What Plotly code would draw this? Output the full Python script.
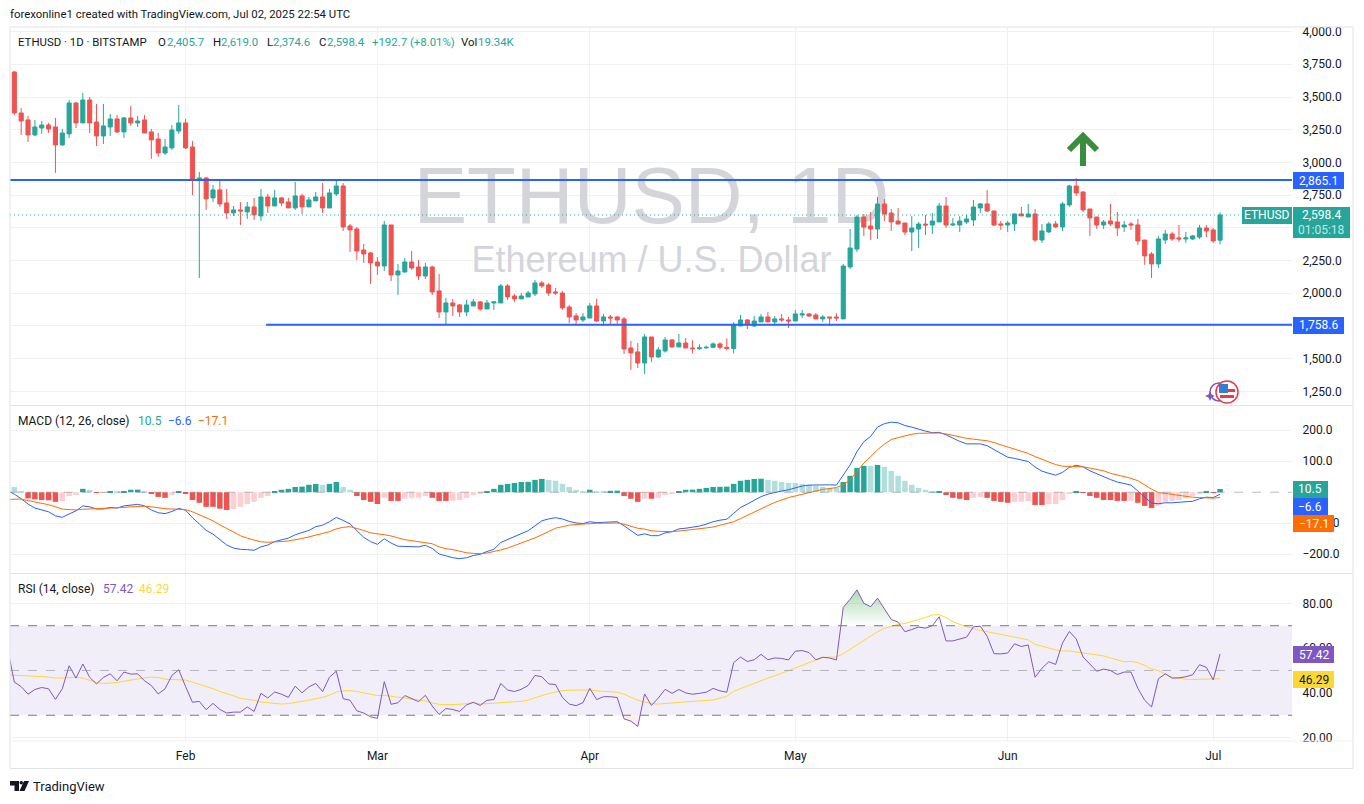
"""ETHUSD daily chart with MACD and RSI panes, TradingView look."""

import pandas as pd
import plotly.graph_objects as go

# first entry of the line series is the bar just left of the visible range
line_dates = pd.date_range("2025-01-06", "2025-07-02", freq="D")
dates = line_dates[1:]

opens = [
    3691, 3378, 3325, 3210, 3263, 3286, 3271, 3134, 3218, 3454,
    3302, 3477, 3309, 3202, 3271, 3332, 3233, 3340, 3302, 3325,
    3233, 3179, 3072, 3111, 3240, 3302, 3118, 2866, 2881, 2729,
    2790, 2690, 2614, 2637, 2622, 2660, 2591, 2736, 2667, 2729,
    2698, 2652, 2744, 2660, 2706, 2736, 2652, 2759, 2820, 2514,
    2491, 2331, 2308, 2239, 2209, 2522, 2140, 2163, 2239, 2201,
    2132, 2201, 2018, 1857, 1926, 1911, 1857, 1903, 1934, 1880,
    1926, 1926, 2056, 1979, 1957, 1972, 1995, 2079, 2064, 2010,
    2002, 1895, 1827, 1796, 1811, 1903, 1788, 1819, 1819, 1804,
    1582, 1552, 1467, 1666, 1513, 1559, 1643, 1590, 1620, 1582,
    1577, 1583, 1587, 1613, 1587, 1578, 1750, 1796, 1750, 1781,
    1819, 1781, 1804, 1796, 1788, 1834, 1842, 1834, 1804, 1819,
    1819, 1804, 2201, 2338, 2583, 2514, 2491, 2682, 2613, 2552,
    2537, 2468, 2491, 2529, 2522, 2545, 2667, 2522, 2522, 2545,
    2560, 2652, 2683, 2629, 2530, 2522, 2530, 2606, 2583, 2606,
    2407, 2469, 2530, 2507, 2675, 2820, 2774, 2644, 2583, 2522,
    2553, 2545, 2507, 2530, 2522, 2407, 2300, 2224, 2407, 2453,
    2423, 2415, 2415, 2430, 2499, 2484, 2405.7,
]
highs = [
    3699, 3416, 3355, 3325, 3317, 3302, 3340, 3256, 3477, 3462,
    3531, 3500, 3447, 3447, 3370, 3363, 3347, 3431, 3355, 3363,
    3256, 3225, 3179, 3286, 3439, 3332, 3164, 2927, 2889, 2828,
    2858, 2797, 2667, 2698, 2698, 2729, 2797, 2759, 2790, 2736,
    2729, 2851, 2759, 2736, 2774, 2843, 2797, 2866, 2843, 2530,
    2507, 2377, 2316, 2277, 2553, 2522, 2224, 2270, 2323, 2255,
    2232, 2209, 2148, 1964, 1957, 1918, 1949, 1957, 1941, 1949,
    1934, 2071, 2071, 1995, 2002, 2018, 2102, 2094, 2079, 2041,
    2018, 1911, 1849, 1849, 1926, 1957, 1842, 1834, 1827, 1819,
    1636, 1620, 1689, 1666, 1590, 1666, 1651, 1689, 1658, 1640,
    1610, 1600, 1625, 1625, 1655, 1780, 1834, 1803, 1826, 1842,
    1857, 1826, 1842, 1819, 1872, 1872, 1849, 1849, 1834, 1819,
    1849, 2224, 2491, 2598, 2606, 2621, 2736, 2720, 2644, 2652,
    2537, 2590, 2545, 2598, 2613, 2690, 2736, 2575, 2590, 2598,
    2713, 2690, 2790, 2629, 2553, 2553, 2611, 2660, 2683, 2644,
    2530, 2545, 2553, 2698, 2828, 2881, 2779, 2644, 2583, 2560,
    2683, 2621, 2553, 2545, 2568, 2407, 2316, 2438, 2484, 2469,
    2522, 2469, 2446, 2522, 2522, 2499, 2619.0,
]
lows = [
    3363, 3210, 3156, 3202, 3218, 3225, 2920, 3126, 3187, 3263,
    3302, 3225, 3126, 3141, 3202, 3225, 3187, 3279, 3271, 3225,
    3027, 3042, 3057, 3095, 3218, 3103, 2751, 2117, 2637, 2698,
    2660, 2568, 2591, 2522, 2568, 2560, 2553, 2614, 2667, 2667,
    2652, 2637, 2606, 2660, 2706, 2614, 2652, 2744, 2476, 2316,
    2255, 2232, 2071, 2140, 2170, 2094, 1987, 2155, 2178, 2102,
    2109, 1987, 1811, 1758, 1827, 1819, 1827, 1903, 1865, 1880,
    1872, 1926, 1949, 1934, 1957, 1972, 1979, 2041, 1979, 1987,
    1872, 1773, 1766, 1781, 1811, 1781, 1750, 1758, 1766, 1536,
    1414, 1429, 1383, 1475, 1506, 1546, 1582, 1590, 1582, 1540,
    1565, 1575, 1580, 1570, 1565, 1540, 1750, 1727, 1742, 1781,
    1781, 1750, 1781, 1735, 1788, 1811, 1819, 1804, 1781, 1750,
    1788, 1804, 2186, 2315, 2438, 2407, 2415, 2552, 2476, 2529,
    2445, 2323, 2346, 2445, 2453, 2545, 2499, 2514, 2468, 2529,
    2514, 2614, 2621, 2514, 2484, 2469, 2476, 2591, 2583, 2392,
    2385, 2461, 2499, 2476, 2660, 2744, 2621, 2438, 2492, 2492,
    2514, 2438, 2469, 2484, 2369, 2217, 2117, 2194, 2377, 2400,
    2392, 2385, 2407, 2415, 2430, 2385, 2374.6,
]
closes = [
    3378, 3317, 3210, 3271, 3286, 3256, 3134, 3225, 3454, 3302,
    3477, 3302, 3202, 3279, 3332, 3233, 3340, 3302, 3317, 3225,
    3172, 3072, 3118, 3248, 3302, 3111, 2866, 2881, 2721, 2790,
    2683, 2614, 2637, 2629, 2660, 2599, 2736, 2667, 2729, 2690,
    2652, 2744, 2660, 2713, 2736, 2652, 2767, 2820, 2507, 2484,
    2323, 2300, 2232, 2209, 2522, 2140, 2170, 2239, 2193, 2132,
    2201, 2010, 1857, 1926, 1903, 1857, 1911, 1934, 1880, 1926,
    1934, 2056, 1972, 1957, 1979, 2002, 2079, 2056, 2002, 2002,
    1888, 1819, 1796, 1819, 1903, 1788, 1819, 1811, 1796, 1574,
    1544, 1467, 1666, 1513, 1567, 1643, 1590, 1620, 1582, 1577,
    1583, 1587, 1613, 1587, 1578, 1758, 1796, 1765, 1788, 1819,
    1781, 1804, 1796, 1788, 1842, 1842, 1826, 1804, 1819, 1811,
    1811, 2208, 2346, 2583, 2506, 2491, 2682, 2606, 2545, 2529,
    2468, 2499, 2529, 2522, 2552, 2667, 2522, 2529, 2552, 2568,
    2659, 2683, 2629, 2522, 2522, 2537, 2606, 2591, 2606, 2407,
    2476, 2530, 2507, 2683, 2820, 2767, 2637, 2576, 2522, 2545,
    2530, 2499, 2522, 2522, 2400, 2285, 2224, 2415, 2453, 2415,
    2415, 2423, 2438, 2499, 2476, 2400, 2598.4,
]
macd_hist = [
    17, 1, -20, -23, -25, -26, -31, -28, -12, -9,
    11, 8, -1, -0.5, 4, 1, 4, 8, 8.5, 4,
    -5, -15, -18, -9, 4, -5, -25, -34, -47, -47,
    -53, -57, -54, -47, -38, -31, -18, -12, 1, 8,
    11, 17, 18, 24, 27, 24, 27, 33, 17, 8,
    -12, -25, -31, -38, -18, -28, -28, -21, -18, -17.5,
    -12, -18, -28, -28, -27.5, -25, -18, -9, -5, 4,
    11, 24, 27, 30, 33, 33.5, 40, 43, 40, 37,
    27, 17, 8, 4, 8, 4, 4, 4.5, 5, -12,
    -21, -31, -21, -21, -18, -9, -5, 4, 8, 8.5,
    11, 14, 17, 17.5, 18, 27, 37, 40, 43, 43.5,
    40, 37, 33, 30, 30, 27, 24, 20, 17, 14,
    14, 33, 53, 78, 85, 85, 88, 82, 69, 53,
    37, 24, 14, 8, 1, 1.5, -9, -18, -21, -25,
    -18, -15, -18, -28, -31, -34, -31, -30.5, -28, -41,
    -41, -38, -37.5, -25, -5, 4, -2, -12, -18, -25,
    -25, -28, -28, -27.5, -34, -44, -51, -44, -31, -28,
    -25, -18, -12, -5, 1, -1, 10.5,
]
macd_line = [
    5,
    -6, -21, -38, -51, -57, -63, -76, -81, -70, -60,
    -44, -47, -54, -54, -49, -51, -44, -41, -39, -44,
    -57, -66, -69, -62, -52, -58, -82, -102, -123, -135,
    -154, -170, -180, -184, -185, -187, -176, -170, -159, -154,
    -148, -137, -131, -123, -111, -106, -95, -81, -91, -102,
    -124, -145, -159, -168, -150, -164, -174, -174, -174, -176,
    -171, -181, -199, -206, -211, -214, -211, -204, -200, -191,
    -184, -162, -152, -143, -134, -124, -108, -92, -86, -82,
    -86, -94, -99, -101, -95, -98, -97, -96, -95, -108,
    -123, -139, -134, -140, -140, -131, -127, -118, -116, -113,
    -109, -103, -95, -90, -87, -68, -49, -38, -25, -14,
    -6, 0, 4, 8, 15, 20, 23, 24, 24, 24,
    23, 54, 88, 131, 163, 180, 210, 221, 226, 224,
    215, 210, 203, 197, 192, 193, 185, 174, 164, 156,
    156, 156, 150, 137, 124, 113, 109, 104, 99, 81,
    68, 61, 55, 64, 80, 87, 82, 69, 59, 49,
    41, 33, 27, 23, 4, -16, -35, -37, -34, -34,
    -33, -32, -29, -21, -16, -17, -6.6,
]
macd_signal = [
    -23,
    -22, -22, -27, -31, -35, -40, -47, -54, -56, -57,
    -55, -54, -53, -53, -52, -52, -49, -47, -46, -45,
    -47, -51, -53, -54, -54, -56, -63, -72, -82, -92,
    -105, -117, -129, -140, -148, -155, -160, -161, -161, -159,
    -157, -154, -149, -144, -139, -133, -127, -118, -113, -111,
    -116, -123, -131, -133, -137, -141, -148, -153, -156, -160,
    -162, -166, -176, -182, -185, -190, -195, -197, -198, -196,
    -192, -186, -180, -172, -164, -157, -147, -137, -126, -116,
    -111, -106, -104, -102, -100, -100, -100, -99, -99, -103,
    -110, -116, -119, -124, -126, -127, -127, -125, -123, -120,
    -118, -115, -112, -107, -102, -95, -85, -74, -63, -53,
    -43, -33, -25, -17, -12, -6, -1, 4, 9, 12,
    15, 24, 40, 67, 94, 115, 137, 155, 170, 176,
    182, 187, 190, 191, 191, 191, 188, 183, 178, 174,
    171, 169, 166, 160, 153, 145, 139, 132, 125, 115,
    106, 97, 89, 84, 83, 83, 82, 78, 74, 69,
    61, 56, 51, 45, 37, 23, 10, -1, -4, -9,
    -12, -14, -16, -17, -19, -19, -17.1,
]
rsi_line = [
    60,
    44.8, 42.8, 39.4, 41.5, 42.4, 41.8, 37.1, 41.8, 52.1, 46.6,
    52.9, 46.9, 44, 46.9, 48.5, 45.4, 49.3, 48.4, 48.5, 45.4,
    43.3, 39.5, 41.8, 47.8, 50.3, 42.8, 35.8, 36.2, 32.5, 35.3,
    32.6, 31, 31.4, 31.4, 33.7, 31.7, 39.8, 37.7, 40.4, 39.4,
    38, 43, 40, 42.7, 44.2, 40.6, 47, 49.7, 37.4, 36.7,
    32, 31, 29.3, 28.6, 45, 34.9, 35.6, 38.8, 37.6, 36.1,
    38.9, 34.1, 30.4, 33, 32.6, 31.7, 34.6, 35.8, 34.4, 36.7,
    37, 44.2, 41.3, 40.6, 41.6, 43.3, 47.8, 47.2, 44, 43.7,
    38, 35, 34.3, 35.6, 42, 37, 38.3, 38.3, 37.9, 28.4,
    27.4, 25, 39.5, 34.4, 37.7, 41.6, 39.8, 41.5, 40, 39.4,
    39.8, 40.3, 42, 40.9, 40.3, 53.5, 56, 54, 54.8, 57.2,
    54.8, 55.6, 55.4, 54.7, 58.6, 58.9, 58, 54.8, 55.9, 55.6,
    54.7, 78.2, 81.8, 86, 80, 78.5, 82.3, 77.3, 72.8, 71.6,
    67.3, 68.3, 69.4, 68.9, 70, 74, 63.2, 63.2, 64.1, 64.9,
    69.5, 69.8, 65.3, 57.5, 57.4, 57.8, 61.9, 60.7, 61.4, 47,
    51, 53.9, 52.7, 62.3, 67.4, 64.1, 56, 52.7, 49.7, 50.6,
    50, 48.2, 49.3, 49.3, 42, 36.7, 33.7, 46.3, 48.5, 46.6,
    46.7, 47.2, 48.1, 52.6, 51.4, 45.8, 57.42,
]
rsi_ma = [
    48,
    47.9, 47.6, 47.5, 47.5, 47.3, 47, 46.6, 46.6, 46.9, 47,
    46.6, 45.7, 44.6, 44.2, 44.3, 44.6, 45.2, 45.8, 46.3, 46.7,
    47, 46.9, 46.1, 46, 46, 45.7, 44.8, 43.7, 42.8, 41.9,
    40.6, 39.7, 38.6, 37.6, 37.1, 36.7, 35.9, 35.5, 35.2, 35,
    35.2, 35.6, 36.1, 36.7, 37.4, 38, 39, 40.4, 40.9, 41,
    40.6, 40.1, 39.4, 38.8, 38.9, 38.5, 38, 37.7, 37.3, 37,
    36.4, 35.5, 34.9, 34.7, 34.7, 34.9, 35.2, 35.6, 35, 35.2,
    35.3, 35.6, 35.8, 36.1, 36.2, 36.8, 37.9, 38.8, 39.7, 40.4,
    41, 41.2, 41.2, 41, 41.3, 40.9, 40.7, 40.6, 40.3, 39.4,
    38.2, 36.7, 35.9, 35.2, 35, 35.3, 35.6, 35.9, 36.2, 36.2,
    36.4, 36.5, 36.8, 37.6, 38.5, 40.7, 41.9, 43.3, 44.5, 45.5,
    46.6, 47.6, 48.7, 49.9, 51.2, 52.3, 53.5, 54.7, 55.7, 56,
    56, 57.5, 59.5, 61.6, 63.5, 65.2, 67.3, 68.8, 69.8, 70.6,
    71, 71.8, 72.8, 73.7, 74.8, 75, 73.6, 71.8, 70.6, 69.5,
    68.6, 67.9, 67.3, 66.5, 65.9, 65.3, 64.9, 64.4, 63.7, 61.7,
    61, 60, 59.2, 58.7, 58.7, 58.3, 57.8, 57.4, 56.9, 56.5,
    55.6, 54.7, 53.9, 54.1, 53.5, 52.3, 50.6, 49.9, 48.4, 47,
    46.6, 46.1, 46, 46, 46.1, 46, 46.29,
]

month_ticks = ["2025-02-01", "2025-03-01", "2025-04-01", "2025-05-01", "2025-06-01", "2025-07-01"]
month_labels = ["Feb", "Mar", "Apr", "May", "Jun", "Jul"]
price_ticks = [1250, 1500, 1750, 2000, 2250, 2500, 2750, 3000, 3250, 3500, 3750, 4000]
# 1,750.0 and 2,500.0 sit fully behind the price tags, so they carry no label
price_labels = ["1,250.0", "1,500.0", "", "2,000.0", "2,250.0", "", "2,750.0",
                "3,000.0", "3,250.0", "3,500.0", "3,750.0", "4,000.0"]
macd_ticks = [-200, -100, 100, 200]
rsi_ticks = [20, 40, 60, 80]

resistance = 2865.1
support = 1758.6
last_price = 2598.4
support_start = "2025-02-12 18:00"

X_START = "2025-01-06 08:50"
X_END = "2025-07-12 12:00"

UP = "#26a69a"
DOWN = "#ef5350"
UP_LIGHT = "#b2dfdb"
DOWN_LIGHT = "#ffcdd2"
BLUE = "#2962ff"
ORANGE = "#ff6d00"
PURPLE = "#7e57c2"
YELLOW = "#fdd835"
GRID = "#f0f1f4"
FRAME = "#e0e3eb"
TEXT = "#131722"
FONT = "Roboto"
HEAD_SIZE = 11.4


def px(x):
    return (x - 10) / 1282


def py(y):
    return (741 - y) / 714


def hist_colors(values):
    colors = []
    for prev, cur in zip([values[0]] + values[:-1], values):
        if cur >= 0:
            colors.append(UP if cur > prev else UP_LIGHT)
        else:
            colors.append(DOWN_LIGHT if cur > prev else DOWN)
    return colors


def label(x, y, text, color=TEXT, size=12, anchor="left"):
    # annotations pad their box by a couple of pixels
    shift = 2 if anchor == "left" else 0
    return dict(
        x=px(x - shift), y=py(y), xref="paper", yref="paper", text=text, showarrow=False,
        xanchor=anchor, yanchor="middle", align=anchor,
        font=dict(family=FONT, size=size, color=color),
    )


def rect(x0, y0, x1, y1, fill, line=None):
    return dict(
        type="rect", xref="paper", yref="paper", x0=px(x0), x1=px(x1), y0=py(y0), y1=py(y1),
        fillcolor=fill, line=dict(color=line or fill, width=1 if line else 0), layer="above",
    )


def hline(x0, x1, y, color=FRAME, width=1):
    return dict(
        type="line", xref="paper", yref="paper", x0=px(x0), x1=px(x1), y0=py(y), y1=py(y),
        line=dict(color=color, width=width), layer="above",
    )


def vline(x, y0, y1, color=FRAME, width=1):
    return dict(
        type="line", xref="paper", yref="paper", x0=px(x), x1=px(x), y0=py(y0), y1=py(y1),
        line=dict(color=color, width=width), layer="above",
    )


def path_shape(points, color, width=0, fill=None):
    parts = []
    for cmd, x, y in points:
        parts.append(f"{cmd}{px(x):.5f},{py(y):.5f}")
    return dict(
        type="path", xref="paper", yref="paper", path=" ".join(parts),
        line=dict(color=color, width=width), fillcolor=fill, layer="above",
    )


fig = go.Figure()

# watermark lives on the base axis so the candles overlay it
fig.add_trace(go.Scatter(
    x=["2025-04-10"], y=[0.535], mode="text", text=["ETHUSD, 1D"],
    textfont=dict(family="Liberation Sans", size=80, color="#d4d5da"),
    xaxis="x", yaxis="y", hoverinfo="skip",
))
fig.add_trace(go.Scatter(
    x=["2025-04-10"], y=[0.376], mode="text", text=["Ethereum / U.S. Dollar"],
    textfont=dict(family="Liberation Sans", size=36, color="#d4d5da"),
    xaxis="x", yaxis="y", hoverinfo="skip",
))

fig.add_trace(go.Candlestick(
    x=dates, open=opens, high=highs, low=lows, close=closes,
    increasing=dict(line=dict(color=UP, width=1), fillcolor=UP),
    decreasing=dict(line=dict(color=DOWN, width=1), fillcolor=DOWN),
    whiskerwidth=0, xaxis="x", yaxis="y2", hoverinfo="skip",
))
fig.add_trace(go.Scatter(
    x=[X_START, X_END], y=[last_price, last_price], mode="lines",
    line=dict(color=UP, width=1, dash="1px,3px"), yaxis="y2",
))
fig.add_trace(go.Scatter(
    x=[X_START, X_END], y=[resistance, resistance], mode="lines",
    line=dict(color=BLUE, width=2), yaxis="y2",
))
fig.add_trace(go.Scatter(
    x=[support_start, X_END], y=[support, support], mode="lines",
    line=dict(color=BLUE, width=2), yaxis="y2",
))

fig.add_trace(go.Bar(
    x=dates, y=macd_hist, marker=dict(color=hist_colors(macd_hist), line=dict(width=0)),
    width=0.8 * 86400000, yaxis="y3", hoverinfo="skip",
))
fig.add_trace(go.Scatter(
    x=line_dates, y=macd_line, mode="lines", line=dict(color=BLUE, width=1), yaxis="y3",
))
fig.add_trace(go.Scatter(
    x=line_dates, y=macd_signal, mode="lines", line=dict(color=ORANGE, width=1), yaxis="y3",
))

# overbought / oversold fills
ob_x = line_dates[122:131]
ob_y = rsi_line[122:131]
fig.add_trace(go.Scatter(
    x=ob_x, y=[70] * len(ob_y), mode="lines", line=dict(width=0), yaxis="y4",
))
fig.add_trace(go.Scatter(
    x=ob_x, y=ob_y, mode="lines", line=dict(width=0), fill="tonexty", yaxis="y4",
    fillgradient=dict(
        type="vertical",
        colorscale=[[0, "rgba(76,175,80,0)"], [1, "rgba(76,175,80,0.45)"]],
    ),
))
os_x = line_dates[90:93]
os_y = rsi_line[90:93]
fig.add_trace(go.Scatter(
    x=os_x, y=[30] * len(os_y), mode="lines", line=dict(width=0), yaxis="y4",
))
fig.add_trace(go.Scatter(
    x=os_x, y=os_y, mode="lines", line=dict(width=0), fill="tonexty",
    fillcolor="rgba(239,83,80,0.1)", yaxis="y4",
))
fig.add_trace(go.Scatter(
    x=line_dates, y=rsi_ma, mode="lines", line=dict(color=YELLOW, width=1), yaxis="y4",
))
fig.add_trace(go.Scatter(
    x=line_dates, y=rsi_line, mode="lines", line=dict(color=PURPLE, width=1), yaxis="y4",
))

annotations = [
    label(10, 14, "forexonline1 created with TradingView.com, Jul 02, 2025 22:54 UTC", size=HEAD_SIZE),
    label(18, 41.5, "ETHUSD · 1D · BITSTAMP", size=HEAD_SIZE),
    label(158, 41.5, "O", size=HEAD_SIZE), label(167, 41.5, "2,405.7", UP, size=HEAD_SIZE),
    label(213, 41.5, "H", size=HEAD_SIZE), label(221, 41.5, "2,619.0", UP, size=HEAD_SIZE),
    label(267, 41.5, "L", size=HEAD_SIZE), label(273, 41.5, "2,374.6", UP, size=HEAD_SIZE),
    label(319, 41.5, "C", size=HEAD_SIZE), label(327, 41.5, "2,598.4", UP, size=HEAD_SIZE),
    label(372, 41.5, "+192.7 (+8.01%)", UP, size=HEAD_SIZE),
    label(461, 41.5, "Vol", size=HEAD_SIZE), label(478, 41.5, "19.34K", UP, size=HEAD_SIZE),
    label(18, 421, "MACD (12, 26, close)"),
    label(138, 421, "10.5", UP), label(168, 421, "−6.6", BLUE), label(198, 421, "−17.1", ORANGE),
    label(18, 589, "RSI (14, close)"),
    label(103, 589, "57.42", PURPLE), label(139, 589, "46.29", YELLOW),
    label(33, 786, "TradingView", size=13),
]

price_boxes = [
    (1293, 172, 1344, 189, BLUE, "2,865.1", "white"),
    (1293, 317, 1344, 334, BLUE, "1,758.6", "white"),
    (1242, 207, 1292, 224, UP, "ETHUSD", "white"),
    (1293, 481, 1328, 498, UP, "10.5", "white"),
    (1293, 498, 1328, 515, BLUE, "−6.6", "white"),
    (1293, 515, 1334, 532, ORANGE, "−17.1", "white"),
    (1293, 646, 1334, 663, PURPLE, "57.42", "white"),
    (1293, 671, 1334, 688, YELLOW, "46.29", TEXT),
]

shapes = [
    dict(type="rect", xref="paper", yref="y4", x0=0, x1=1, y0=30, y1=70,
         fillcolor="rgba(126,87,194,0.1)", line=dict(width=0), layer="below"),
    dict(type="line", xref="paper", yref="y4", x0=0, x1=1, y0=70, y1=70,
         line=dict(color="#787b86", width=1, dash="dash"), layer="above"),
    dict(type="line", xref="paper", yref="y4", x0=0, x1=1, y0=50, y1=50,
         line=dict(color="rgba(120,123,134,0.5)", width=1, dash="dash"), layer="above"),
    dict(type="line", xref="paper", yref="y4", x0=0, x1=1, y0=30, y1=30,
         line=dict(color="#787b86", width=1, dash="dash"), layer="above"),
    dict(type="line", xref="paper", yref="y3", x0=0, x1=1, y0=0, y1=0,
         line=dict(color="rgba(120,123,134,0.5)", width=1, dash="dash"), layer="above"),
    # frame and pane separators
    hline(10, 1353, 27), hline(10, 1353, 405.5), hline(10, 1353, 573.5),
    hline(10, 1353, 741, color=GRID), hline(10, 1353, 768.5),
    vline(10, 27, 768), vline(1353, 27, 768),
    # up arrow drawn on the chart
    path_shape([("M", 1083, 166), ("L", 1083, 137), ("M", 1069, 150), ("L", 1083, 136), ("L", 1097, 150)],
               "#388e3c", width=6),
    # economic calendar badge
    dict(type="circle", xref="paper", yref="paper", x0=px(1210), x1=px(1228), y0=py(383), y1=py(401),
         line=dict(color=PURPLE, width=1.5), fillcolor="white", layer="above"),
    path_shape([("M", 1210, 391), ("L", 1211.5, 394.5), ("L", 1215, 396), ("L", 1211.5, 397.5),
                ("L", 1210, 401), ("L", 1208.5, 397.5), ("L", 1205, 396), ("L", 1208.5, 394.5), ("L", 1210, 391)],
               PURPLE, fill=PURPLE),
    dict(type="circle", xref="paper", yref="paper", x0=px(1216), x1=px(1238), y0=py(381), y1=py(403),
         line=dict(color="#f23645", width=1.5), fillcolor="white", layer="above"),
    rect(1219, 384, 1228, 393, "#2f7fd6"),
    rect(1228, 389, 1235, 392, "#f23645"),
    rect(1220, 395, 1234, 398, "#f23645"),
    # TradingView logo
    path_shape([("M", 10, 781), ("L", 19, 781), ("L", 19, 791), ("L", 14.5, 791), ("L", 14.5, 785.5), ("L", 10, 785.5), ("L", 10, 781)],
               TEXT, fill=TEXT),
    path_shape([("M", 24, 781), ("L", 29, 781), ("L", 24.5, 791), ("L", 19.5, 791), ("L", 24, 781)],
               TEXT, fill=TEXT),
    dict(type="circle", xref="paper", yref="paper", x0=px(19.5), x1=px(23), y0=py(781), y1=py(784.5),
         line=dict(width=0), fillcolor=TEXT, layer="above"),
]

for x0, y0, x1, y1, fill, text, color in price_boxes:
    shapes.append(rect(x0, y0, x1, y1, fill))
    annotations.append(label((x0 + x1) / 2, (y0 + y1) / 2, text, color, anchor="center"))

# last price tag has two lines
shapes.append(rect(1293, 207, 1350, 238, UP))
annotations.append(label(1321.5, 215, "2,598.4", "white", anchor="center"))
annotations.append(label(1321.5, 229.5, "01:05:18", "#c4e6e2", anchor="center"))

axis_font = dict(family=FONT, size=12, color=TEXT)
y_common = dict(
    side="right", anchor="x", showgrid=True, gridcolor=GRID, gridwidth=1, zeroline=False,
    showline=False, ticks="outside", ticklen=7, tickcolor="rgba(0,0,0,0)", tickfont=axis_font,
)

fig.update_layout(
    width=1364,
    height=804,
    margin=dict(l=10, r=72, t=27, b=63),
    paper_bgcolor="white",
    plot_bgcolor="white",
    showlegend=False,
    hovermode=False,
    boxgap=0.2,
    boxgroupgap=0.25,
    barmode="overlay",
    xaxis=dict(
        type="date", range=[X_START, X_END], domain=[0, 1], anchor="y4",
        rangeslider=dict(visible=False), tickmode="array",
        tickvals=month_ticks, ticktext=month_labels,
        showgrid=True, gridcolor=GRID, zeroline=False, showline=False,
        ticks="outside", ticklen=4, tickcolor="rgba(0,0,0,0)", tickfont=axis_font,
    ),
    yaxis=dict(domain=[py(405), 1], range=[0, 1], visible=False, anchor="x"),
    yaxis2=dict(
        overlaying="y", range=[1146, 4035], tickmode="array", tickvals=price_ticks,
        ticktext=price_labels, **y_common,
    ),
    yaxis3=dict(
        domain=[py(573), py(406)], range=[-260.3, 278], tickmode="array", tickvals=macd_ticks,
        tickformat=".1f", **y_common,
    ),
    yaxis4=dict(
        domain=[0, py(574)], range=[18.5, 93.1], tickmode="array", tickvals=rsi_ticks,
        tickformat=".2f", **y_common,
    ),
    annotations=annotations,
    shapes=shapes,
)

fig.write_html(
    "out.html",
    config=dict(displayModeBar=False),
    post_script="document.body.style.margin='0';",
)
